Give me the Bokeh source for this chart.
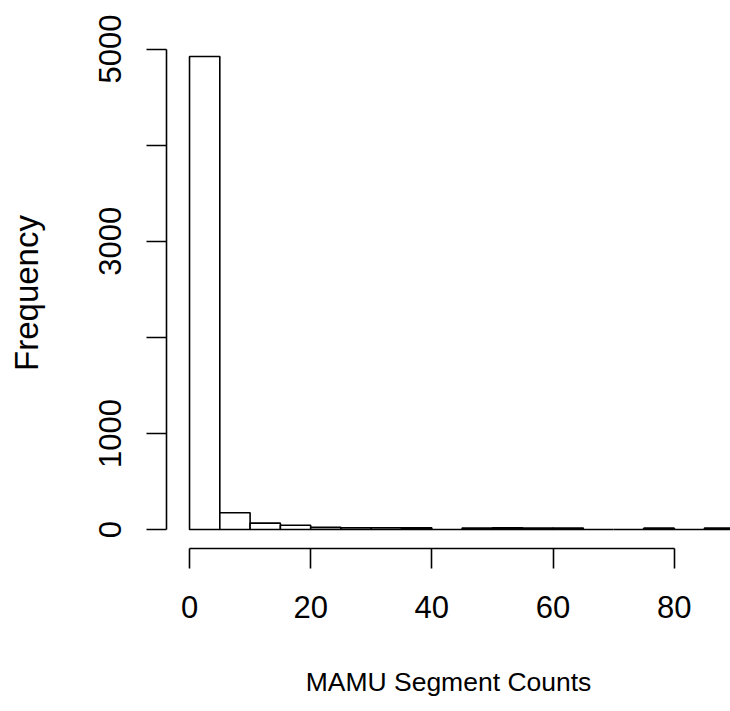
from bokeh.plotting import figure
from bokeh.models import Range1d, FixedTicker
from bokeh.embed import file_html
from bokeh.resources import INLINE

# Histogram of MAMU segment counts, bins of width 5
breaks = [0, 5, 10, 15, 20, 25, 30, 35, 40, 45, 50, 55, 60, 65, 70, 75, 80, 85, 90]
counts = [4923, 174, 66, 45, 22, 19, 18, 17, 0, 16, 17, 15, 15, 0, 0, 14, 0, 16]

x_ticks = [0, 20, 40, 60, 80]
y_ticks = [0, 1000, 2000, 3000, 4000, 5000]
y_tick_labels = {0: "0", 1000: "1000", 2000: "", 3000: "3000", 4000: "", 5000: "5000"}

FONT = "Liberation Sans"

p = figure(
    width=730, height=711,
    x_range=Range1d(-3.8, 89.3), y_range=Range1d(-197.6, 5120),
    output_backend="svg", toolbar_location=None,
    min_border_left=166, min_border_right=0,
    min_border_top=37, min_border_bottom=163,
)
p.outline_line_color = None
p.xgrid.visible = False
p.ygrid.visible = False
p.background_fill_color = "white"
p.border_fill_color = "white"

p.quad(left=breaks[:-1], right=breaks[1:], bottom=0, top=counts,
       fill_color="white", line_color="black", line_width=1.6)

for ax in (p.xaxis[0], p.yaxis[0]):
    ax.axis_line_width = 1.6
    ax.axis_line_color = "black"
    ax.major_tick_line_width = 1.6
    ax.major_tick_line_color = "black"
    ax.major_tick_in = 0
    ax.major_tick_out = 20
    ax.minor_tick_line_color = None
    ax.major_label_text_font = FONT
    ax.major_label_text_font_size = "31px"
    ax.major_label_text_color = "black"
    ax.axis_label_text_font = FONT
    ax.axis_label_text_font_style = "normal"
    ax.axis_label_text_color = "black"

xa = p.xaxis[0]
xa.ticker = FixedTicker(ticks=x_ticks)
xa.bounds = (0, 80)
xa.major_label_standoff = 27
xa.axis_label = "MAMU Segment Counts"
xa.axis_label_text_font_size = "26.5px"
xa.axis_label_standoff = 46

ya = p.yaxis[0]
ya.ticker = FixedTicker(ticks=y_ticks)
ya.bounds = (0, 5000)
ya.major_label_overrides = y_tick_labels
ya.major_label_orientation = "vertical"
ya.major_label_standoff = 25
ya.axis_label = "Frequency"
ya.axis_label_text_font_size = "33px"
ya.axis_label_standoff = 52

open("out.html", "w").write(file_html(p, INLINE))
